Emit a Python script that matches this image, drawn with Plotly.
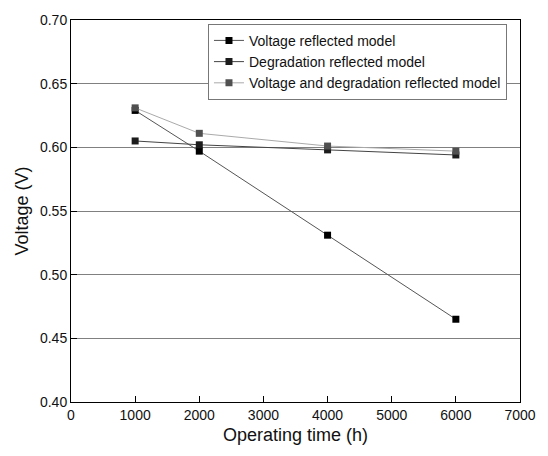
import plotly.graph_objects as go

hours = [1000, 2000, 4000, 6000]
voltage_model = [0.629, 0.597, 0.531, 0.465]
degradation_model = [0.605, 0.602, 0.598, 0.594]
combined_model = [0.631, 0.611, 0.601, 0.597]

names = ["Voltage reflected model", "Degradation reflected model",
         "Voltage and degradation reflected model"]
series = [voltage_model, degradation_model, combined_model]
line_colors = ["#555555", "#444444", "#aaaaaa"]
marker_colors = ["#000000", "#1c1c1c", "#505050"]

fig = go.Figure()
for n, s, lc, mc in zip(names, series, line_colors, marker_colors):
    fig.add_trace(go.Scatter(
        x=hours, y=s, name=n, mode="lines+markers",
        line=dict(color=lc, width=1),
        marker=dict(symbol="square", size=7, color=mc),
    ))

font = "Liberation Sans, Arial, sans-serif"
fig.update_layout(
    width=548, height=456,
    margin=dict(l=71, r=26, t=15, b=54),
    paper_bgcolor="white", plot_bgcolor="white",
    font=dict(family=font, size=14, color="#111111"),
    showlegend=True,
    legend=dict(x=0.971, y=0.99, xanchor="right", yanchor="top",
                bordercolor="#777777", borderwidth=1, bgcolor="white",
                font=dict(size=14), tracegroupgap=0, itemwidth=30),
    xaxis=dict(range=[0, 7000], dtick=1000, showgrid=False, zeroline=False,
               showline=True, linecolor="#000000", linewidth=1, mirror=True,
               ticks="inside", ticklen=6, tickcolor="#000000",
               title=dict(text="Operating time (h)", font=dict(size=18), standoff=6)),
    yaxis=dict(range=[0.40, 0.70], dtick=0.05, tickformat=".2f", showgrid=True,
               gridcolor="#808080", gridwidth=1, zeroline=False,
               showline=True, linecolor="#000000", linewidth=1, mirror=True,
               ticks="inside", ticklen=6, tickcolor="#000000",
               title=dict(text="Voltage (V)", font=dict(size=18), standoff=6)),
)

fig.write_html("out.html")
